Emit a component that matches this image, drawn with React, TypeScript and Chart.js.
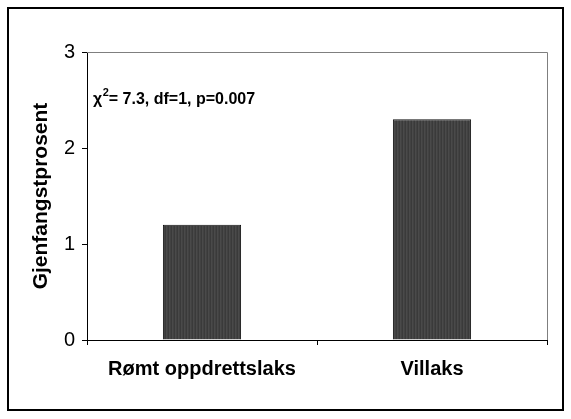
import { useEffect, useRef } from 'react';
import { Chart, registerables } from 'chart.js';

Chart.register(...registerables);

const categories = ['Rømt oppdrettslaks', 'Villaks'];
const values = [1.2, 2.3];
const yMin = 0;
const yMax = 3;
const yStep = 1;
const yTitle = 'Gjenfangstprosent';
const statChi = 'χ';
const statSup = '2';
const statRest = '= 7.3, df=1, p=0.007';

const FONT = '"Liberation Sans", Arial, Helvetica, sans-serif';

function makePattern(ctx: CanvasRenderingContext2D): CanvasPattern | string {
  const c = document.createElement('canvas');
  c.width = 3;
  c.height = 3;
  const p = c.getContext('2d');
  if (!p) return '#444';
  p.fillStyle = '#3a3a3a';
  p.fillRect(0, 0, 3, 3);
  p.fillStyle = '#4a4a4a';
  p.fillRect(1, 0, 1, 3);
  p.fillStyle = '#424242';
  p.fillRect(2, 0, 1, 3);
  return ctx.createPattern(c, 'repeat') || '#444';
}

const framePlugin = {
  id: 'framePlugin',
  afterDraw(chart: any) {
    const { ctx, chartArea } = chart;
    const { left, right, top, bottom } = chartArea;
    ctx.save();
    ctx.strokeStyle = '#7f7f7f';
    ctx.lineWidth = 1;
    ctx.beginPath();
    ctx.moveTo(left, top + 0.5);
    ctx.lineTo(right + 0.5, top + 0.5);
    ctx.lineTo(right + 0.5, bottom);
    ctx.stroke();
    ctx.strokeStyle = '#000';
    ctx.lineWidth = 2;
    ctx.strokeRect(8, 8, 555, 402);
    ctx.fillStyle = '#000';
    ctx.textBaseline = 'alphabetic';
    ctx.textAlign = 'left';
    const x0 = left + 6;
    const y0 = 104;
    ctx.font = `bold 16px ${FONT}`;
    ctx.fillText(statChi, x0, y0);
    const w1 = ctx.measureText(statChi).width;
    ctx.font = `bold 11px ${FONT}`;
    ctx.fillText(statSup, x0 + w1 + 0.5, y0 - 8);
    const w2 = ctx.measureText(statSup).width;
    ctx.font = `bold 16px ${FONT}`;
    ctx.fillText(statRest, x0 + w1 + w2 + 0.5, y0);
    ctx.restore();
  },
};

export default function App() {
  const ref = useRef<HTMLCanvasElement | null>(null);

  useEffect(() => {
    const canvas = ref.current;
    if (!canvas) return;
    const ctx = canvas.getContext('2d');
    if (!ctx) return;
    const pattern = makePattern(ctx);
    const chart = new Chart(canvas, {
      type: 'bar',
      data: {
        labels: categories,
        datasets: [
          {
            data: values,
            backgroundColor: pattern as any,
            borderColor: '#111',
            borderWidth: 1,
            categoryPercentage: 1,
            barPercentage: 0.34,
          },
        ],
      },
      options: {
        responsive: false,
        animation: false,
        devicePixelRatio: 1,
        layout: { padding: { left: 0, top: 52, right: 24, bottom: 0 } },
        plugins: {
          legend: { display: false },
          tooltip: { enabled: false },
          title: { display: false },
        },
        scales: {
          x: {
            type: 'category',
            afterFit(scale: any) {
              scale.height = 79;
            },
            grid: {
              offset: true,
              drawOnChartArea: false,
              drawTicks: true,
              tickLength: 5,
              color: '#000',
            },
            border: { display: true, color: '#000', width: 1 },
            ticks: {
              color: '#000',
              padding: 12,
              maxRotation: 0,
              font: { family: FONT, size: 20, weight: 'bold' },
            },
          },
          y: {
            min: yMin,
            max: yMax,
            afterFit(scale: any) {
              scale.width = 87;
            },
            grid: {
              drawOnChartArea: false,
              drawTicks: true,
              tickLength: 5,
              color: '#000',
            },
            border: { display: true, color: '#000', width: 1 },
            ticks: {
              stepSize: yStep,
              color: '#000',
              padding: 7,
              font: { family: FONT, size: 20 },
            },
            title: {
              display: true,
              text: yTitle,
              color: '#000',
              padding: { top: 29, bottom: 0 },
              font: { family: FONT, size: 21, weight: 'bold' },
            },
          },
        },
      },
      plugins: [framePlugin],
    });
    return () => chart.destroy();
  }, []);

  return (
    <div style={{ position: 'fixed', left: 0, top: 0, width: 571, height: 419, background: '#fff' }}>
      <canvas ref={ref} width={571} height={419} style={{ display: 'block' }} />
    </div>
  );
}
